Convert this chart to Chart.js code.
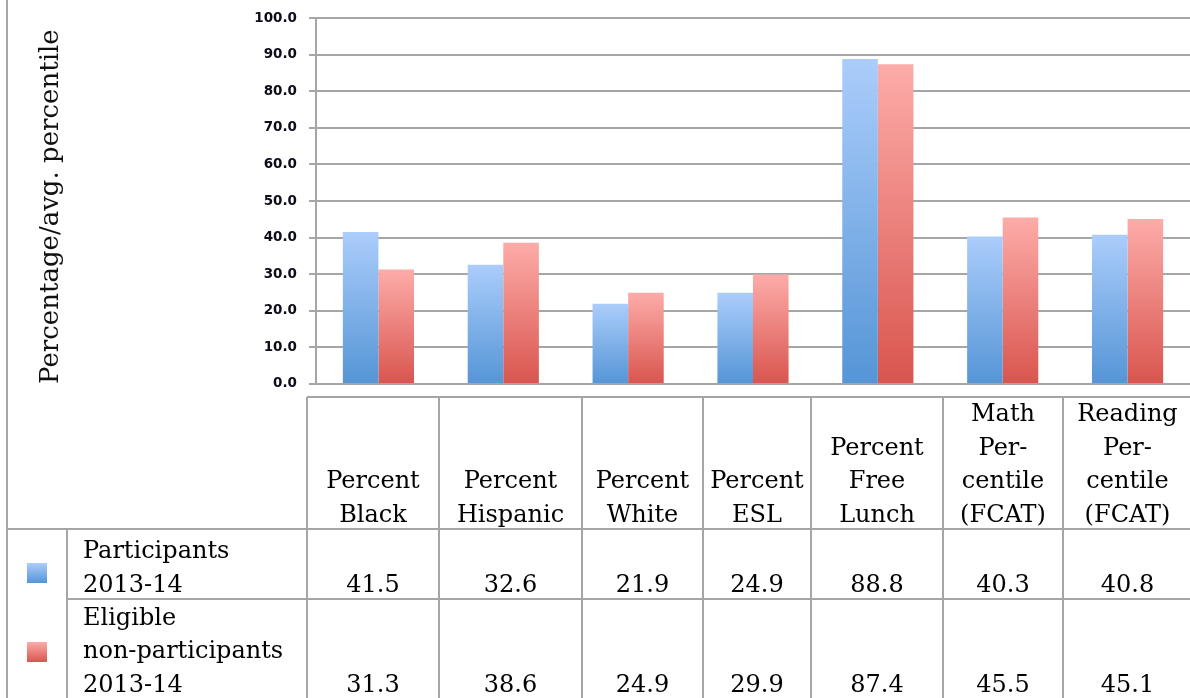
<!DOCTYPE html>
<html>
<head>
<meta charset="utf-8">
<script src="https://cdn.jsdelivr.net/npm/chart.js@4.4.0/dist/chart.umd.min.js"></script>
<style>
  html, body { margin: 0; padding: 0; background: #fff; }
  body { width: 1190px; height: 698px; overflow: hidden; position: relative; font-family: 'DejaVu Serif', serif; color: #000; }
  /* tick padding adds ~20px above and below the plot, so the box is nudged up */
  #chartBox { position: absolute; left: 0; top: -2px; width: 1190px; height: 406px; }
  .line { position: absolute; background: #a6a6a6; }
  .cell { position: absolute; display: flex; flex-direction: column; justify-content: flex-end; align-items: center;
          text-align: center; font-size: 24px; line-height: 33.5px; box-sizing: border-box; white-space: nowrap; }
  .cell.lab { align-items: flex-start; text-align: left; padding-left: 15px; }
  .key { position: absolute; width: 20px; height: 20px; }
</style>
</head>
<body>
<div id="chartBox"><canvas id="bars"></canvas></div>
<div id="table"></div>
<script>
// data
const categories = [
  ['Percent', 'Black'],
  ['Percent', 'Hispanic'],
  ['Percent', 'White'],
  ['Percent', 'ESL'],
  ['Percent', 'Free', 'Lunch'],
  ['Math', 'Per-', 'centile', '(FCAT)'],
  ['Reading', 'Per-', 'centile', '(FCAT)']
];
const seriesNames = [
  ['Participants', '2013-14'],
  ['Eligible', 'non-participants', '2013-14']
];
const participants    = [41.5, 32.6, 21.9, 24.9, 88.8, 40.3, 40.8];
const nonParticipants = [31.3, 38.6, 24.9, 29.9, 87.4, 45.5, 45.1];
const yTickLabels = ['0.0', '10.0', '20.0', '30.0', '40.0', '50.0', '60.0', '70.0', '80.0', '90.0', '100.0'];
const yTitle = 'Percentage/avg. percentile';

// look
const BLUE = ['#abcdfb', '#5595d6'];
const RED  = ['#fdaca9', '#d9554e'];
const GRID = '#a6a6a6';

// table layout (line centres in px)
const colEdges = [7, 67, 307, 439, 582, 703, 811, 943, 1063, 1192];
const rowEdges = [397, 529, 599, 699];
const keyTops = [563, 642];

function fade(ctx, cols) {
  const chart = ctx.chart;
  if (!chart.chartArea || ctx.raw == null) return cols[1];
  const y = chart.scales.y;
  const g = chart.ctx.createLinearGradient(0, y.getPixelForValue(ctx.raw), 0, y.getPixelForValue(0));
  g.addColorStop(0, cols[0]);
  g.addColorStop(1, cols[1]);
  return g;
}

new Chart(document.getElementById('bars'), {
  type: 'bar',
  data: {
    labels: categories,
    datasets: [
      { label: seriesNames[0].join(' '), data: participants, backgroundColor: c => fade(c, BLUE) },
      { label: seriesNames[1].join(' '), data: nonParticipants, backgroundColor: c => fade(c, RED) }
    ]
  },
  options: {
    responsive: true,
    maintainAspectRatio: false,
    animation: false,
    layout: { padding: 0 },
    datasets: { bar: { categoryPercentage: 0.57, barPercentage: 1.0 } },
    plugins: { legend: { display: false }, tooltip: { enabled: false } },
    scales: {
      x: { display: false },
      y: {
        min: 0, max: 100,
        afterFit: s => { s.width = 316; },
        ticks: {
          stepSize: 10,
          padding: 12,
          color: '#0d0d1a',
          font: { family: 'DejaVu Sans', size: 13.5, weight: 'bold' },
          callback: (v, i) => yTickLabels[i]
        },
        grid: { color: GRID, lineWidth: 2, tickLength: 7 },
        border: { color: GRID, width: 2 },
        title: {
          display: true,
          text: yTitle,
          align: 'start',
          color: '#111',
          font: { family: 'DejaVu Serif', size: 26 },
          padding: { top: 36, bottom: 0 }
        }
      }
    }
  }
});

// data table under the plot
const table = document.getElementById('table');
function line(x, y, w, h) {
  const d = document.createElement('div');
  d.className = 'line';
  d.style.cssText = `left:${x}px;top:${y}px;width:${w}px;height:${h}px`;
  table.appendChild(d);
}
function cell(x0, x1, y0, y1, lines, cls) {
  const d = document.createElement('div');
  d.className = 'cell' + (cls ? ' ' + cls : '');
  d.style.cssText = `left:${x0 + 1}px;width:${x1 - x0 - 2}px;top:${y0 + 1}px;height:${y1 - y0 + 1}px`;
  lines.forEach(t => {
    const s = document.createElement('div');
    s.textContent = t;
    d.appendChild(s);
  });
  table.appendChild(d);
}

const last = rowEdges[rowEdges.length - 1];
line(colEdges[0] - 1, 0, 2, 698);
line(colEdges[1] - 1, rowEdges[1], 2, last - rowEdges[1]);
for (let i = 2; i < colEdges.length - 1; i++) line(colEdges[i] - 1, rowEdges[0], 2, last - rowEdges[0]);
line(colEdges[2], rowEdges[0] - 1, 1192 - colEdges[2], 2);
line(colEdges[0], rowEdges[1] - 1, 1192 - colEdges[0], 2);
line(colEdges[1], rowEdges[2] - 1, 1192 - colEdges[1], 2);

categories.forEach((c, i) => cell(colEdges[i + 2], colEdges[i + 3], rowEdges[0], rowEdges[1], c));

[participants, nonParticipants].forEach((vals, r) => {
  const y0 = rowEdges[r + 1], y1 = rowEdges[r + 2];
  cell(colEdges[1], colEdges[2], y0, y1, seriesNames[r], 'lab');
  vals.forEach((v, i) => cell(colEdges[i + 2], colEdges[i + 3], y0, y1, [v.toFixed(1)]));
  const k = document.createElement('div');
  const cols = r === 0 ? BLUE : RED;
  k.className = 'key';
  k.style.cssText = `left:27px;top:${keyTops[r]}px;background:linear-gradient(${cols[0]},${cols[1]})`;
  table.appendChild(k);
});
</script>
</body>
</html>
